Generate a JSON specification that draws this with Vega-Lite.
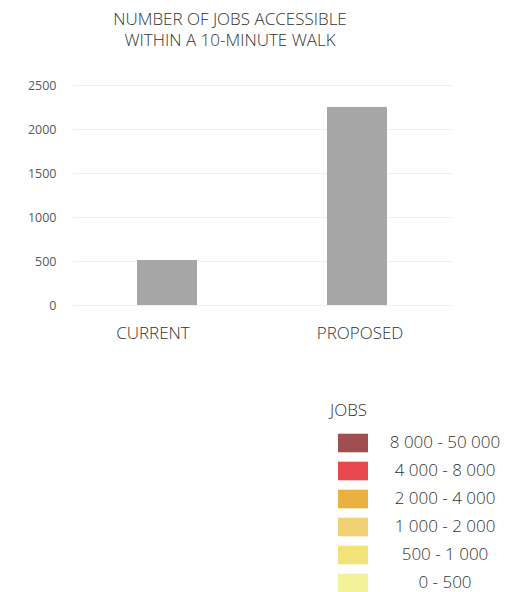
{
  "$schema": "https://vega.github.io/schema/vega-lite/v6.json",
  "autosize": "none",
  "width": 380,
  "height": 220,
  "padding": {"left": 72, "top": 85, "right": 60, "bottom": 287},
  "background": "white",
  "config": {"view": {"stroke": null}, "font": "Open Sans"},
  "title": {
    "text": ["NUMBER OF JOBS ACCESSIBLE", "WITHIN A 10-MINUTE WALK"],
    "fontSize": 17,
    "fontWeight": 300,
    "color": "#333333",
    "anchor": "middle",
    "frame": "group",
    "dx": -32,
    "offset": 29,
    "lineHeight": 21
  },
  "datasets": {
    "bars": [
      {"scenario": "CURRENT", "jobs": 510},
      {"scenario": "PROPOSED", "jobs": 2250}
    ],
    "legend": [
      {"range": "8 000 - 50 000"},
      {"range": "4 000 - 8 000"},
      {"range": "2 000 - 4 000"},
      {"range": "1 000 - 2 000"},
      {"range": "500 - 1 000"},
      {"range": "0 - 500"}
    ]
  },
  "layer": [
    {
      "data": {"name": "legend"},
      "mark": {"type": "square", "opacity": 0, "size": 10},
      "encoding": {
        "color": {
          "field": "range",
          "type": "nominal",
          "scale": {
            "domain": ["8 000 - 50 000", "4 000 - 8 000", "2 000 - 4 000", "1 000 - 2 000", "500 - 1 000", "0 - 500"],
            "range": ["#a04f50", "#e8484c", "#ebb140", "#f0d275", "#f2e27a", "#f3f29b"]
          },
          "legend": {
            "orient": "none",
            "legendX": 258,
            "legendY": 318,
            "title": "JOBS",
            "titleFontSize": 17,
            "titleFontWeight": 300,
            "titleColor": "#333333",
            "titlePadding": 8,
            "labelFontSize": 17,
            "labelFontWeight": 300,
            "labelColor": "#333333",
            "labelAlign": "center",
            "labelOffset": 77,
            "symbolType": "M-1,-0.62H1V0.62H-1Z",
            "symbolSize": 900,
            "symbolOpacity": 1,
            "symbolStrokeWidth": 0,
            "symbolOffset": 8,
            "rowPadding": 3,
            "padding": 0
          }
        }
      }
    },
    {
      "data": {"name": "bars"},
      "mark": {"type": "bar", "color": "#a6a6a6", "width": 60},
      "encoding": {
        "x": {
          "field": "scenario",
          "type": "nominal",
          "sort": null,
          "scale": {"paddingInner": 0, "paddingOuter": 0},
          "axis": {
            "title": null,
            "labelAngle": 0,
            "labelFontSize": 17,
            "labelFontWeight": 300,
            "labelColor": "#333333",
            "ticks": false,
            "domain": false,
            "grid": false,
            "labelPadding": 20,
            "labelOffset": {"condition": {"test": "datum.value === 'CURRENT'", "value": -14}, "value": 3}
          }
        },
        "y": {
          "field": "jobs",
          "type": "quantitative",
          "scale": {"domain": [0, 2500], "nice": false},
          "axis": {
            "title": null,
            "values": [0, 500, 1000, 1500, 2000, 2500],
            "format": "d",
            "labelFontSize": 12.5,
            "labelColor": "#595959",
            "ticks": false,
            "domain": false,
            "labelPadding": 16,
            "gridColor": "#f0f0f0"
          }
        }
      }
    }
  ]
}
